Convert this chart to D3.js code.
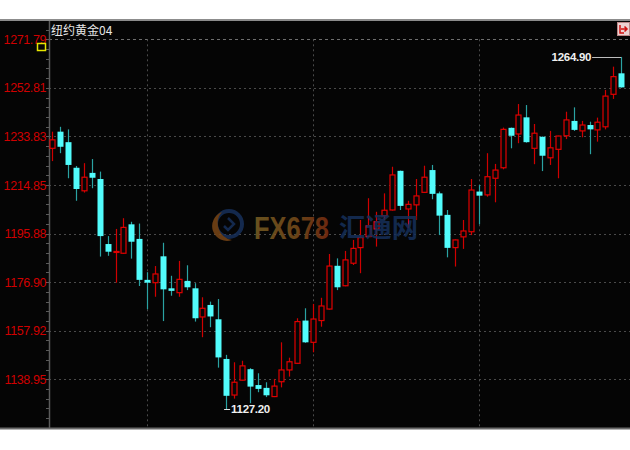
<!DOCTYPE html>
<html><head><meta charset="utf-8">
<script src="https://cdn.jsdelivr.net/npm/d3@7"></script>
<style>html,body{margin:0;padding:0;background:#fff;}svg{display:block;}</style>
</head><body>
<script>
// ---- data ----
const title = "纽约黄金04";
const open  = [1229.2,1235.7,1231.6,1221.6,1212.6,1219.6,1217.2,1191.8,1188.7,1188.2,1199.5,1193.8,1177.8,1176.7,1187.0,1174.5,1172.8,1177.4,1174.5,1163.3,1168.0,1162.4,1146.9,1132.8,1138.6,1142.9,1136.7,1135.6,1132.2,1138.0,1142.6,1145.2,1161.9,1153.4,1161.9,1166.4,1183.3,1175.5,1184.3,1190.4,1194.7,1197.7,1202.9,1205.1,1220.4,1205.5,1207.1,1212.0,1220.7,1211.6,1203.2,1190.4,1194.6,1196.6,1212.3,1211.0,1217.5,1221.6,1237.2,1234.8,1241.3,1229.2,1233.7,1225.5,1228.8,1234.1,1239.9,1236.0,1238.3,1236.4,1237.6,1250.3,1258.5];
const high  = [1235.7,1237.6,1236.6,1222.3,1223.4,1225.0,1220.1,1194.9,1197.7,1201.9,1200.5,1199.8,1180.8,1183.2,1192.3,1179.4,1185.2,1183.5,1176.5,1171.0,1169.3,1170.3,1148.5,1145.6,1146.2,1143.3,1141.3,1137.8,1139.1,1153.4,1147.4,1162.8,1166.7,1168.4,1170.8,1187.9,1186.2,1189.1,1193.4,1201.2,1209.7,1204.4,1211.6,1222.0,1220.5,1208.7,1217.2,1222.4,1222.7,1212.3,1205.1,1193.6,1201.2,1217.2,1214.9,1227.3,1223.1,1237.3,1237.3,1246.5,1246.1,1238.7,1233.8,1236.0,1234.1,1243.5,1245.2,1239.9,1239.6,1241.2,1252.0,1261.1,1264.9];
const low   = [1224.2,1227.3,1217.5,1208.7,1211.9,1213.6,1186.9,1187.2,1176.7,1188.0,1186.1,1175.4,1166.3,1171.2,1161.7,1171.6,1171.2,1173.8,1161.5,1155.4,1159.3,1143.5,1127.2,1131.4,1138.5,1129.6,1133.9,1132.0,1132.0,1135.8,1140.0,1145.0,1153.2,1149.5,1159.5,1166.2,1173.8,1175.3,1183.6,1180.4,1194.5,1190.8,1201.2,1204.9,1205.1,1198.0,1201.2,1211.8,1209.3,1195.3,1186.6,1183.0,1189.9,1195.3,1199.5,1210.3,1208.1,1221.0,1229.2,1231.2,1231.4,1223.0,1220.3,1222.7,1217.5,1232.8,1236.0,1233.5,1226.9,1231.8,1236.6,1248.5,1252.9];
const close = [1232.5,1229.8,1222.7,1213.3,1217.9,1217.7,1194.9,1188.8,1188.9,1198.3,1192.7,1177.8,1176.7,1180.1,1174.1,1173.5,1178.0,1174.9,1162.8,1166.7,1163.5,1147.5,1132.5,1137.8,1144.2,1136.1,1135.2,1132.7,1136.3,1142.6,1145.8,1161.5,1153.4,1162.5,1167.6,1183.2,1174.9,1185.6,1190.1,1194.3,1198.9,1200.5,1205.0,1218.8,1206.7,1207.3,1210.6,1217.9,1211.4,1202.9,1190.3,1193.4,1196.9,1212.9,1210.7,1218.1,1220.7,1236.6,1234.1,1242.2,1231.6,1235.1,1226.3,1229.4,1234.0,1240.3,1236.4,1238.3,1236.6,1239.4,1249.6,1257.2,1253.0];
const yTickLabels = ["1271.79","1252.81","1233.83","1214.85","1195.88","1176.90","1157.92","1138.95"];
const separatorIdx = [12, 33, 54];

// ---- setup ----
const W = 630, H = 450;
const plotTop = 21, plotBottom = 428, axisX = 49;
const svg = d3.select("body").append("svg").attr("width", W).attr("height", H);

const n = open.length;
const idx = d3.range(n);
const x = d3.scaleLinear().domain([0, n - 1]).range([52.3, 621.1]);
const yTicks = yTickLabels.map(Number);
const y = d3.scaleLinear().domain([d3.min(yTicks), d3.max(yTicks)]).range([379.3, 39.3]);

// background
svg.append("rect").attr("x",0).attr("y",0).attr("width",W).attr("height",H).attr("fill","#fff");
svg.append("rect").attr("x",0).attr("y",plotTop).attr("width",W).attr("height",plotBottom-plotTop).attr("fill","#050505");
svg.append("line").attr("x1",0).attr("x2",W).attr("y1",20).attr("y2",20).attr("stroke","#8c8c8c").attr("stroke-width",2);
svg.append("line").attr("x1",0).attr("x2",W).attr("y1",plotBottom+0.5).attr("y2",plotBottom+0.5).attr("stroke","#6a6a6a").attr("stroke-width",2);

// horizontal grid
const g = svg.append("g");
g.selectAll("line.hg").data(yTicks).join("line")
  .attr("x1", axisX).attr("x2", W)
  .attr("y1", d => Math.round(y(d)) + 0.5).attr("y2", d => Math.round(y(d)) + 0.5)
  .attr("stroke", (d,i) => i === 0 ? "#6e6e6e" : "#4a4a4a")
  .attr("stroke-dasharray", (d,i) => i === 0 ? "3,3" : "2,3");

// vertical separators
g.selectAll("line.vg").data(separatorIdx).join("line")
  .attr("x1", d => Math.round(x(d)) + 0.5).attr("x2", d => Math.round(x(d)) + 0.5)
  .attr("y1", y(yTicks[0])).attr("y2", plotBottom)
  .attr("stroke", "#4a4a4a").attr("stroke-dasharray", "2,3");

// axis line and minor ticks
svg.append("line").attr("x1",axisX+0.5).attr("x2",axisX+0.5).attr("y1",plotTop).attr("y2",plotBottom)
  .attr("stroke","#5a5a5a").attr("stroke-width",1.5);
const step = (yTicks[0] - yTicks[1]) / 5;
const minorVals = d3.range(-20, 45).map(k => yTicks[yTicks.length-1] + k * step)
  .filter(v => y(v) > plotTop + 3 && y(v) < plotBottom - 2);
svg.append("g").selectAll("line").data(minorVals).join("line")
  .attr("x1", axisX - 3).attr("x2", axisX)
  .attr("y1", d => Math.round(y(d)) + 0.5).attr("y2", d => Math.round(y(d)) + 0.5)
  .attr("stroke", "#5a5a5a");

// y labels
svg.append("g").selectAll("text").data(yTickLabels).join("text")
  .attr("x", 46).attr("y", d => y(+d) + 4.5)
  .attr("text-anchor", "end")
  .attr("font-family", "'Liberation Sans', Arial, sans-serif")
  .attr("font-size", "12.5px").attr("letter-spacing", "-0.4px")
  .attr("fill", "#d00000")
  .text(d => d);

// candles
const up = i => close[i] >= open[i];
const cg = svg.append("g");
cg.selectAll("line.wick").data(idx).join("line")
  .attr("x1", i => Math.round(x(i)) + 0.5).attr("x2", i => Math.round(x(i)) + 0.5)
  .attr("y1", i => y(high[i])).attr("y2", i => y(low[i]))
  .attr("stroke", i => up(i) ? "#d00000" : "#2aa3a3").attr("stroke-width", 1.2);
cg.selectAll("rect.body").data(idx).join("rect")
  .attr("x", i => up(i) ? Math.round(x(i)) - 2 : Math.round(x(i)) - 2.5)
  .attr("width", i => up(i) ? 5 : 6)
  .attr("y", i => y(Math.max(open[i], close[i])))
  .attr("height", i => Math.max(1, Math.abs(y(open[i]) - y(close[i]))))
  .attr("fill", i => up(i) ? "#050505" : "#52fcfc")
  .attr("stroke", i => up(i) ? "#e00000" : "none")
  .attr("stroke-width", 1.2);

// watermark (semi-transparent, over the candles)
const defs = svg.append("defs");
const grad = defs.append("linearGradient").attr("id","fxg").attr("x1","0").attr("x2","1").attr("y1","0").attr("y2","0");
grad.append("stop").attr("offset","0").attr("stop-color","#7a6024");
grad.append("stop").attr("offset","0.6").attr("stop-color","#7a4c1a");
grad.append("stop").attr("offset","1").attr("stop-color","#7e2e12");
const wm = svg.append("g").attr("opacity", 0.85);
wm.append("circle").attr("cx",229).attr("cy",224).attr("r",13).attr("fill","none").attr("stroke","#17305a").attr("stroke-width",4);
wm.append("path").attr("d","M222,212 A14,14 0 0,0 232,240 A17,17 0 0,1 222,212 Z").attr("fill","#7a4616");
wm.append("path").attr("d","M228,218 L234,224 L228,230 L224,226").attr("fill","none").attr("stroke","#17305a").attr("stroke-width",2.5);
wm.append("text").attr("x",254).attr("y",239).attr("font-family","'Liberation Sans', Arial, sans-serif")
  .attr("font-weight","bold").attr("font-size","31px").attr("textLength",75).attr("lengthAdjust","spacingAndGlyphs")
  .attr("fill","url(#fxg)").text("FX678");
wm.append("text").attr("x",339).attr("y",237).attr("font-family","'Noto Sans CJK SC', sans-serif")
  .attr("font-weight","bold").attr("font-size","26px").attr("textLength",79).attr("lengthAdjust","spacingAndGlyphs")
  .attr("fill","#16305a").text("汇通网");

// max / min annotations
const iMax = d3.maxIndex(high), iMin = d3.minIndex(low);
svg.append("line").attr("x1", x(iMax)).attr("x2", x(iMax) - 29)
  .attr("y1", Math.round(y(high[iMax])) + 0.5).attr("y2", Math.round(y(high[iMax])) + 0.5)
  .attr("stroke", "#bdbdbd");
svg.append("text").attr("x", x(iMax) - 30).attr("y", y(high[iMax]) + 4)
  .attr("text-anchor","end").attr("font-family","'Liberation Sans', Arial, sans-serif")
  .attr("font-weight","bold").attr("font-size","11.5px").attr("letter-spacing","-0.3px")
  .attr("fill","#f0f0f0").text(high[iMax].toFixed(2));
svg.append("line").attr("x1", x(iMin) - 2).attr("x2", x(iMin) + 4)
  .attr("y1", Math.round(y(low[iMin])) + 0.5).attr("y2", Math.round(y(low[iMin])) + 0.5)
  .attr("stroke", "#e0e0e0");
svg.append("text").attr("x", x(iMin) + 5).attr("y", y(low[iMin]) + 4)
  .attr("font-family","'Liberation Sans', Arial, sans-serif")
  .attr("font-weight","bold").attr("font-size","11.5px").attr("letter-spacing","-0.3px")
  .attr("fill","#f0f0f0").text(low[iMin].toFixed(2));

// title
svg.append("text").attr("x", 51).attr("y", 34.5)
  .attr("font-family","'Noto Sans CJK SC', sans-serif").attr("font-size","12px")
  .attr("fill","#e6e6e6").text(title);

// yellow marker
svg.append("rect").attr("x",37.5).attr("y",43.5).attr("width",8).attr("height",7)
  .attr("fill","none").attr("stroke","#e6e600").attr("stroke-width",1.5);

// top-right button
svg.append("rect").attr("x",617.5).attr("y",22.5).attr("width",12).attr("height",13)
  .attr("fill","#ecd2d2").attr("stroke","#b88").attr("stroke-width",1);
svg.append("path").attr("d","M620,25 L620,33 L624,33 M621,29 L627,29 M624.5,26.5 L627,29 L624.5,31.5")
  .attr("fill","none").attr("stroke","#d01010").attr("stroke-width",1.5);
</script>
</body></html>
